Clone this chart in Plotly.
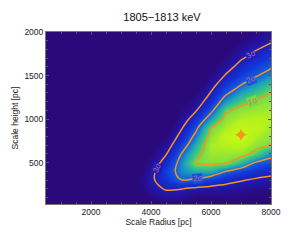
import plotly.graph_objects as go

# Grid of the likelihood map (significance in sigma)
scale_radius = [500, 1000, 1500, 2000, 2500, 3000, 3500, 4000,
                4500, 5000, 5500, 6000, 6500, 7000, 7500, 8000]
scale_height = [0, 100, 200, 300, 400, 500, 600, 700, 800, 900, 1000,
                1100, 1200, 1300, 1400, 1500, 1600, 1700, 1800, 1900, 2000]
sigma = [
    [6, 6, 6, 6, 6, 5.0, 4.6, 4.2, 4.0, 4.0, 4.4, 4.3, 4.2, 4.2, 4.3, 4.4],
    [6, 6, 6, 6, 6, 4.7, 4.2, 3.7, 3.4, 3.5, 3.8, 3.8, 3.7, 3.8, 3.95, 4.0],
    [6, 6, 6, 6, 6, 4.6, 4.0, 3.3, 2.92, 2.97, 3.15, 3.25, 3.3, 3.4, 3.6, 3.6],
    [6, 6, 6, 6, 6, 4.6, 3.9, 3.15, 2.55, 2.01, 2.1, 2.41, 2.72, 2.94, 3.1, 3.2],
    [6, 6, 6, 6, 6, 4.7, 4.0, 3.25, 2.38, 1.77, 1.53, 1.49, 2.0, 2.33, 2.58, 2.76],
    [6, 6, 6, 6, 6, 4.9, 4.2, 3.5, 2.68, 1.77, 0.95, 0.9, 0.96, 1.44, 2.06, 2.30],
    [6, 6, 6, 6, 6, 5.2, 4.5, 3.8, 3.05, 2.01, 1.21, 0.7, 0.72, 0.77, 1.18, 1.75],
    [6, 6, 6, 6, 6, 5.5, 4.8, 4.1, 3.4, 2.38, 1.5, 0.6, 0.49, 0.42, 0.81, 1.03],
    [6, 6, 6, 6, 6, 5.8, 5.1, 4.4, 3.75, 2.75, 1.8, 0.8, 0.31, 0.07, 0.6, 0.84],
    [6, 6, 6, 6, 6, 6, 5.4, 4.7, 4.1, 3.1, 2.15, 1.02, 0.58, 0.24, 0.35, 0.67],
    [6, 6, 6, 6, 6, 6, 5.7, 5.0, 4.45, 3.45, 2.59, 1.63, 0.81, 0.54, 0.48, 0.5],
    [6, 6, 6, 6, 6, 6, 6, 5.3, 4.8, 3.8, 3.05, 2.16, 1.11, 0.83, 0.71, 0.67],
    [6, 6, 6, 6, 6, 6, 6, 5.6, 5.1, 4.15, 3.45, 2.55, 1.64, 1.19, 0.94, 0.83],
    [6, 6, 6, 6, 6, 6, 6, 6, 5.4, 4.5, 3.85, 2.94, 2.11, 1.61, 1.29, 1.0],
    [6, 6, 6, 6, 6, 6, 6, 6, 5.7, 4.8, 4.2, 3.3, 2.51, 2.03, 1.68, 1.36],
    [6, 6, 6, 6, 6, 6, 6, 6, 6, 5.1, 4.5, 3.65, 2.93, 2.38, 2.05, 1.72],
    [6, 6, 6, 6, 6, 6, 6, 6, 6, 5.4, 4.8, 4.0, 3.3, 2.73, 2.38, 2.08],
    [6, 6, 6, 6, 6, 6, 6, 6, 6, 5.7, 5.1, 4.3, 3.65, 3.08, 2.71, 2.42],
    [6, 6, 6, 6, 6, 6, 6, 6, 6, 6, 5.4, 4.6, 4.0, 3.4, 3.04, 2.75],
    [6, 6, 6, 6, 6, 6, 6, 6, 6, 6, 5.6, 4.9, 4.3, 3.75, 3.4, 3.09],
    [6, 6, 6, 6, 6, 6, 6, 6, 6, 6, 5.8, 5.2, 4.6, 4.1, 3.75, 3.42],
]
best_fit_radius = [7000]
best_fit_height = [820]
contour_levels = [1, 2, 3]
contour_labels = ["3σ", "3σ", "2σ", "2σ", "1σ"]
label_x = [7330, 4200, 7330, 5560, 7370]
label_y = [1745, 430, 1460, 315, 1200]
label_angle = [-30, -68, -24, -4, -18]

x_ticks = [2000, 4000, 6000, 8000]
y_ticks = [500, 1000, 1500, 2000]

orange = "#f7931e"
label_colors = ["#b46ca4", "#b46ca4", "#b46ca4", "#b46ca4", "#c8843c"]
label_bg = ["#1f1cb8", "#1f1cb8", "#1452dc", "#1452dc", "#7ad846"]
colorscale = [
    [0.0, "#d0f80e"],
    [0.125, "#b4f21c"],
    [0.25, "#78dc48"],
    [0.30, "#48cc70"],
    [0.40, "#1ea6b8"],
    [0.50, "#1462dc"],
    [0.625, "#1234d8"],
    [0.75, "#1e1cb8"],
    [0.85, "#26109a"],
    [0.95, "#2a0a7c"],
    [1.0, "#2a0a7a"],
]

fig = go.Figure()
fig.add_trace(go.Heatmap(
    x=scale_radius, y=scale_height, z=sigma,
    zmin=0, zmax=4, colorscale=colorscale, zsmooth="best",
    showscale=False, hoverinfo="skip",
))
fig.add_trace(go.Contour(
    x=scale_radius, y=scale_height, z=sigma,
    contours=dict(coloring="none", start=contour_levels[0],
                  end=contour_levels[-1], size=1, showlabels=False),
    line=dict(color=orange, width=1.5, smoothing=1.0),
    showscale=False, hoverinfo="skip",
))
fig.add_trace(go.Scatter(
    x=best_fit_radius, y=best_fit_height, mode="markers",
    marker=dict(symbol="star-diamond", size=9, color=orange,
                line=dict(width=0)),
    hoverinfo="skip", showlegend=False,
))

for t, lx, ly, ang, c, bg in zip(contour_labels, label_x, label_y,
                                 label_angle, label_colors, label_bg):
    fig.add_annotation(x=lx, y=ly, text=t, textangle=ang, showarrow=False,
                       bgcolor=bg, borderpad=0,
                       font=dict(size=8, color=c,
                                 family="Liberation Sans, Arial"))

axis_common = dict(
    showline=True, linecolor="#777", linewidth=1, mirror="ticks",
    ticks="inside", ticklen=3, tickcolor="#555", showgrid=False,
    zeroline=False, tickfont=dict(size=8.5, color="#222"),
)
fig.update_xaxes(range=[500, 8000], tickvals=x_ticks,
                 title=dict(text="Scale Radius [pc]", font=dict(size=8.5, color="#222"),
                            standoff=1),
                 minor=dict(ticks="inside", ticklen=2, dtick=500, tickcolor="#555"),
                 **axis_common)
fig.update_yaxes(range=[25, 2000], tickvals=y_ticks,
                 title=dict(text="Scale height [pc]", font=dict(size=8.5, color="#222"),
                            standoff=4),
                 minor=dict(ticks="inside", ticklen=2, dtick=100, tickcolor="#555"),
                 **axis_common)
fig.update_layout(
    width=293, height=249,
    margin=dict(l=46, r=15, t=32, b=45),
    paper_bgcolor="white", plot_bgcolor="white",
    font=dict(family="Liberation Sans, Arial", color="#222"),
    title=dict(text="1805−1813 keV", x=0.553, xanchor="center", y=0.932,
               yanchor="middle", font=dict(size=11, color="#111")),
    showlegend=False,
)
fig.write_html(
    "out.html",
    config={"displayModeBar": False},
    post_script="document.body.style.margin='0';document.body.style.overflow='hidden';",
)
